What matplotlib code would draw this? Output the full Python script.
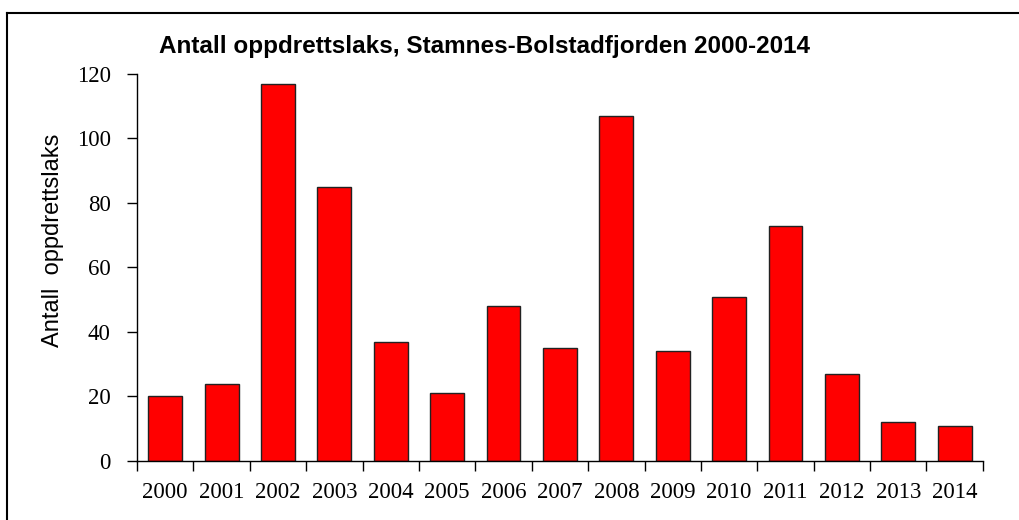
import matplotlib
matplotlib.use("Agg")
import numpy as np
import matplotlib.pyplot as plt
from matplotlib.lines import Line2D

# data
years = ['2000', '2001', '2002', '2003', '2004', '2005', '2006', '2007',
         '2008', '2009', '2010', '2011', '2012', '2013', '2014']
antall = [20, 24, 117, 85, 37, 21, 48, 35, 107, 34, 51, 73, 27, 12, 11]

fig = plt.figure(figsize=(10.19, 5.2), dpi=100)
ax = fig.add_axes([0.1345, 0.1135, 0.83, 0.7442])

x = np.arange(len(years))
ax.bar(x, antall, width=0.6, color='#ff0000', edgecolor='#222222', linewidth=1.0)

ax.set_xlim(-0.5, len(years) - 0.5)
ax.set_ylim(0, 120)
ax.set_yticks(range(0, 121, 20))
ax.set_xticks(x)
ax.set_xticklabels(years)
ax.set_xticks(np.arange(-0.5, len(years), 1.0), minor=True)
ax.tick_params(axis='x', which='major', length=0, pad=15)
ax.tick_params(axis='x', which='minor', length=7, width=1, direction='out')
ax.tick_params(axis='y', length=7, width=1, direction='out', pad=12)
for lab in ax.get_xticklabels() + ax.get_yticklabels():
    lab.set_fontfamily('Liberation Serif')
    lab.set_fontsize(16.5)

ax.spines['top'].set_visible(False)
ax.spines['right'].set_visible(False)
ax.spines['left'].set_linewidth(1)
ax.spines['bottom'].set_linewidth(1)

fig.text(0.052, 0.538, 'Antall  oppdrettslaks', rotation=90, ha='center', va='center',
         fontsize=17, family='Liberation Sans')
fig.text(0.475, 0.91, 'Antall oppdrettslaks, Stamnes-Bolstadfjorden 2000-2014',
         ha='center', va='center', fontsize=17.5, fontweight='bold',
         family='Liberation Sans')

# frame around the picture (top and left edges visible)
fig.add_artist(Line2D([0.007, 1.0], [0.975, 0.975], transform=fig.transFigure,
                      color='black', linewidth=1.5))
fig.add_artist(Line2D([0.007, 0.007], [0.0, 0.975], transform=fig.transFigure,
                      color='black', linewidth=1.5))

fig.savefig('out.png', dpi=100)
